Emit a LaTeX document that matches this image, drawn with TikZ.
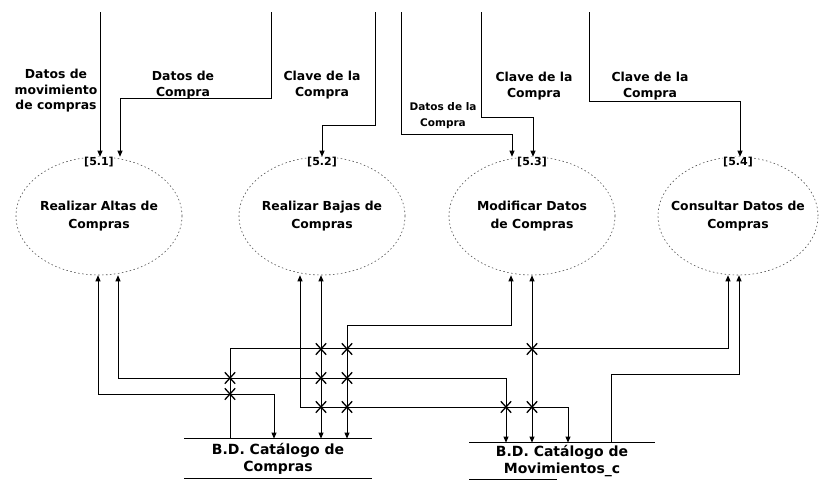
\documentclass[tikz,border=0pt]{standalone}
\usepackage{fontspec}
\setmainfont{DejaVu Sans}
\usetikzlibrary{arrows.meta, shapes.geometric, shapes.misc}

\begin{document}
\begin{tikzpicture}[>={Triangle[length=6pt,width=5pt]}, x=1pt, y=-1pt, line width=0.8pt]

% --- Style Definitions ---
% Process bubbles (dotted outline, text put in as a label)
\tikzstyle{proc_node}=[ellipse, draw=gray!60!black, line width=0.6pt, dash pattern=on 1.5pt off 2.5pt, minimum width=166pt, minimum height=118pt, inner sep=0pt]
\tikzstyle{proc_text}=[align=center, inner sep=0pt, font=\bfseries\fontsize{12.4}{18}\selectfont]
\tikzstyle{num_text}=[anchor=center, yshift=-5pt, inner sep=0pt, fill=white, font=\bfseries\fontsize{11}{12}\selectfont]
% Data stores (text between two lines)
\tikzstyle{store_node}=[minimum width=187pt, minimum height=39pt, inner sep=0pt, align=center, font=\bfseries\fontsize{14}{17}\selectfont]
\tikzstyle{store_line}=[line width=0.6pt]
% Flow labels
\tikzstyle{flow_label}=[align=center, inner sep=0pt, font=\bfseries\fontsize{12.4}{15.5}\selectfont]
\tikzstyle{small_label}=[align=center, inner sep=0pt, font=\bfseries\fontsize{10.5}{16}\selectfont]
% Arrows
\tikzstyle{flow_arrow}=[->]
\tikzstyle{both_arrow}=[<->]
% Line crossing mark
\tikzstyle{cross_mark}=[cross out, draw, line width=1.3pt, minimum width=9pt, minimum height=10pt, inner sep=0pt]

\path[use as bounding box, fill=white] (0,0) rectangle (822,480);

% --- 1. Processes ---
\node[proc_node, label={[proc_text]center:Realizar Altas de\\Compras}, label={[num_text]north:{[5.1]}}] (p51) at (99,216) {};
\node[proc_node, label={[proc_text]center:Realizar Bajas de\\Compras}, label={[num_text]north:{[5.2]}}] (p52) at (322,216) {};
\node[proc_node, label={[proc_text]center:Modificar Datos\\de Compras}, label={[num_text]north:{[5.3]}}] (p53) at (532,216) {};
\node[proc_node, minimum width=160pt, label={[proc_text]center:Consultar Datos de\\Compras}, label={[num_text]north:{[5.4]}}] (p54) at (738,216) {};

% --- 2. Data stores ---
\node[store_node] (s1) at (278,458.5) {B.D. Catálogo de\\Compras};
\draw[store_line] (s1.north west) -- (s1.north east);
\draw[store_line] (s1.south west) -- (s1.south east);

\node[store_node, minimum width=185pt, minimum height=36pt] (s2) at (562,461) {B.D. Catálogo de\\Movimientos\_c};
\draw[store_line] (s2.north west) -- (s2.north east);
\draw[store_line] (s2.south west) -- ++(88,0);

% --- 3. Incoming flows (from the top) ---
\coordinate (t1) at (100,12);
\coordinate (t2) at (271,12);
\coordinate (t3) at (375,12);
\coordinate (t4) at (401,12);
\coordinate (t5) at (481,12);
\coordinate (t6) at (589,12);

\draw[flow_arrow] (t1) -- (t1 |- p51.north);
\draw[flow_arrow] (t2) -- ++(0,86) -| ([xshift=21pt]p51.north);
\draw[flow_arrow] (t3) -- ++(0,113) -| (p52.north);
\draw[flow_arrow] (t4) -- ++(0,122) -| ([xshift=-20pt]p53.north);
\draw[flow_arrow] (t5) -- ++(0,105) -| ([xshift=1pt]p53.north);
\draw[flow_arrow] (t6) -- ++(0,89) -| ([xshift=2pt]p54.north);

\node[flow_label] (l1) at (56,91) {Datos de\\movimiento\\de compras};
\node[flow_label] (l2) at (183,85) {Datos de\\Compra};
\node[flow_label] (l3) at (322,85) {Clave de la\\Compra};
\node[small_label] (l4) at (443,116) {Datos de la\\Compra};
\node[flow_label] (l5) at (534,86) {Clave de la\\Compra};
\node[flow_label] (l6) at (650,86) {Clave de la\\Compra};

% --- 4. Flows between processes and stores ---
\draw[both_arrow] ([xshift=-1pt]p51.south) -- ++(0,119) -| ([xshift=-4pt]s1.north);
\draw[both_arrow] ([xshift=19pt]p51.south) -- ++(0,103) -| ([xshift=-56pt]s2.north);
\draw[both_arrow] ([xshift=-22pt]p52.south) -- ++(0,132) -| ([xshift=6pt]s2.north);
\draw[both_arrow] ([xshift=-1pt]p52.south) -- ([xshift=-1pt]p52.south |- s1.north);
\draw[both_arrow] ([xshift=-21pt]p53.south) -- ++(0,50) -| ([xshift=69pt]s1.north);
\draw[both_arrow] (p53.south) -- (p53.south |- s2.north);
\draw[flow_arrow] ([xshift=-48pt]s1.north) -- ++(0,-90) -| ([xshift=-10pt]p54.south);
\draw[flow_arrow] ([xshift=49pt]s2.north) -- ++(0,-68) -| ([xshift=1pt]p54.south);

% --- 5. Crossing marks ---
\foreach \cx/\cy [count=\k] in {230/378, 230/394, 321/349, 347/349, 321/378, 347/378, 321/407, 347/407, 532/349, 506/407, 532/407}
  \node[cross_mark] (x\k) at (\cx,\cy) {};

\end{tikzpicture}
\end{document}
